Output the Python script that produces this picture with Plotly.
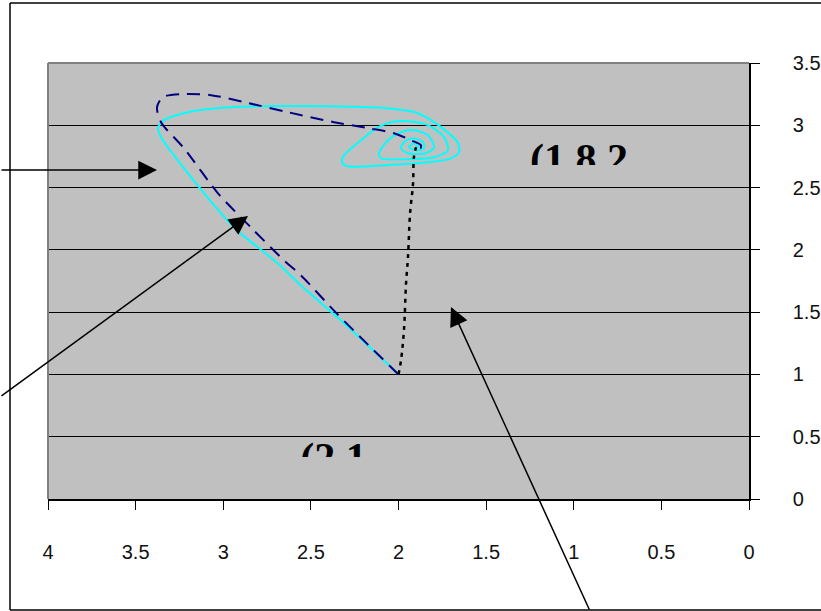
import plotly.graph_objects as go

# ---- data ----
navy_x = [2.000, 2.180, 2.357, 2.556, 2.653, 2.842, 3.030, 3.224, 3.355, 3.378, 3.344, 3.241,
          3.070, 2.882, 2.630, 2.368, 2.174, 2.026, 1.929, 1.872, 1.875, 1.900]
navy_y = [1.000, 1.247, 1.496, 1.794, 1.915, 2.180, 2.454, 2.816, 3.025, 3.146, 3.226, 3.250,
          3.242, 3.186, 3.105, 3.025, 2.977, 2.936, 2.880, 2.840, 2.815, 2.824]

cyan_x = [2.000, 2.328, 2.556, 2.688, 2.939, 3.127, 3.281, 3.355, 3.372, 3.338, 3.201, 2.939,
          2.556, 2.083, 1.889, 1.757, 1.660, 1.655, 1.700, 1.832, 2.083, 2.288, 2.322, 2.311,
          2.214, 2.117, 2.043, 1.946, 1.832, 1.740, 1.718, 1.797, 1.986, 2.100, 2.111, 2.060,
          1.986, 1.912, 1.832, 1.797, 1.843, 1.946, 1.986, 1.969, 1.917, 1.860, 1.855, 1.900,
          1.940, 1.917, 1.883, 1.900]
cyan_y = [1.000, 1.432, 1.714, 1.891, 2.180, 2.486, 2.759, 2.904, 2.977, 3.041, 3.105, 3.146,
          3.154, 3.138, 3.097, 2.985, 2.856, 2.784, 2.735, 2.703, 2.679, 2.671, 2.703, 2.759,
          2.880, 2.985, 3.025, 3.033, 3.001, 2.904, 2.800, 2.743, 2.727, 2.735, 2.776, 2.880,
          2.944, 2.961, 2.920, 2.824, 2.776, 2.776, 2.816, 2.864, 2.896, 2.864, 2.816, 2.800,
          2.824, 2.856, 2.840, 2.824]

dotted_x = [2.000, 1.986, 1.969, 1.957, 1.946, 1.934, 1.917, 1.912, 1.900]
dotted_y = [1.000, 1.110, 1.352, 1.730, 1.939, 2.293, 2.534, 2.743, 2.824]

x_tickvals = [4, 3.5, 3, 2.5, 2, 1.5, 1, 0.5, 0]
x_ticktext = ["4", "3.5", "3", "2.5", "2", "1.5", "1", "0.5", "0"]
y_tickvals = [0, 0.5, 1, 1.5, 2, 2.5, 3, 3.5]
y_ticktext = ["0", "0.5", "1", "1.5", "2", "2.5", "3", "3.5"]

label_texts = ["(1.8,2", "(2,1"]
label_x = [1.25, 2.56]
label_y = [2.70, 0.30]

# ---- figure ----
W, H = 821, 611
L, R, T, B = 48, 749, 63, 499

fig = go.Figure()

fig.add_trace(go.Scatter(x=cyan_x, y=cyan_y, mode="lines",
                         line=dict(color="#00FFFF", width=2, shape="spline", smoothing=0.8),
                         hoverinfo="skip"))
fig.add_trace(go.Scatter(x=navy_x, y=navy_y, mode="lines",
                         line=dict(color="#000080", width=2, dash="13px,8px", shape="spline", smoothing=0.8),
                         hoverinfo="skip"))
fig.add_trace(go.Scatter(x=dotted_x, y=dotted_y, mode="lines",
                         line=dict(color="#000000", width=2.5, dash="4px,5px", shape="spline"),
                         hoverinfo="skip"))
fig.add_trace(go.Scatter(x=label_x, y=label_y, mode="text", text=label_texts,
                         textposition="middle right",
                         textfont=dict(family="Liberation Serif, Times New Roman, serif", size=42,
                                       color="black", weight="bold"),
                         hoverinfo="skip", cliponaxis=False))

def px2x(px):
    return 4 - (px - L) / (R - L) * 4

def py2y(py):
    return (B - py) / (B - T) * 3.5

pw, ph = R - L, B - T
def ppx(px):
    return (px - L) / pw

def ppy(py):
    return (B - py) / ph

shapes = []
# cover rectangles that clip the lower part of the labels
shapes.append(dict(type="rect", xref="x", yref="y", x0=px2x(522), x1=px2x(645),
                   y0=py2y(185), y1=py2y(165), fillcolor="#C0C0C0", line=dict(width=0), layer="above"))
shapes.append(dict(type="rect", xref="x", yref="y", x0=px2x(292), x1=px2x(385),
                   y0=py2y(485), y1=py2y(457), fillcolor="#C0C0C0", line=dict(width=0), layer="above"))
# gray border on left and top of plot area
shapes.append(dict(type="line", xref="paper", yref="paper", x0=0, x1=0, y0=0, y1=1,
                   line=dict(color="#808080", width=2), layer="above"))
shapes.append(dict(type="line", xref="paper", yref="paper", x0=0, x1=1, y0=1, y1=1,
                   line=dict(color="#808080", width=2), layer="above"))
# outer chart border (left, top, bottom; right edge lies beyond the picture)
border = dict(type="line", xref="paper", yref="paper", line=dict(color="#000000", width=1.5), layer="below")
shapes.append(dict(border, x0=ppx(10), x1=ppx(10), y0=ppy(3), y1=ppy(610)))
shapes.append(dict(border, x0=ppx(10), x1=ppx(830), y0=ppy(3), y1=ppy(3)))
shapes.append(dict(border, x0=ppx(10), x1=ppx(830), y0=ppy(610), y1=ppy(610)))

arrow = dict(text="", showarrow=True, arrowhead=2, arrowsize=2.5, arrowwidth=1.5,
             arrowcolor="black", xref="x", yref="y", axref="pixel", ayref="pixel")
annotations = [
    dict(arrow, x=px2x(157), y=py2y(170), ax=-170, ay=0),
    dict(arrow, x=px2x(248), y=py2y(216), ax=-262, ay=181),
    dict(arrow, x=px2x(451), y=py2y(307), ax=139, ay=313),
]

fig.update_layout(
    width=W, height=H, autosize=False,
    margin=dict(l=L, r=W - R, t=T, b=H - B, pad=0, autoexpand=False),
    paper_bgcolor="white", plot_bgcolor="#C0C0C0",
    showlegend=False,
    font=dict(family="Liberation Sans, Arial, sans-serif", size=20, color="#111111"),
    shapes=shapes, annotations=annotations,
    xaxis=dict(range=[4, 0], tickvals=x_tickvals, ticktext=x_ticktext, showgrid=False,
               zeroline=False, showline=True, linecolor="black", linewidth=1.5,
               ticks="outside", ticklen=9, tickcolor="black", tickwidth=1,
               ticklabelstandoff=25, automargin=False, fixedrange=True),
    yaxis=dict(range=[0, 3.5], tickvals=y_tickvals, ticktext=y_ticktext, side="right",
               showgrid=True, gridcolor="black", gridwidth=1, zeroline=False,
               showline=True, linecolor="black", linewidth=1.5,
               ticks="outside", ticklen=9, tickcolor="black", tickwidth=1,
               ticklabelstandoff=29, automargin=False, fixedrange=True),
)

fig.write_html("out.html", config={"displayModeBar": False, "responsive": False},
               post_script=("document.documentElement.style.overflow='hidden';"
                            "document.body.style.overflow='hidden';"
                            "document.body.style.margin='0';"))
